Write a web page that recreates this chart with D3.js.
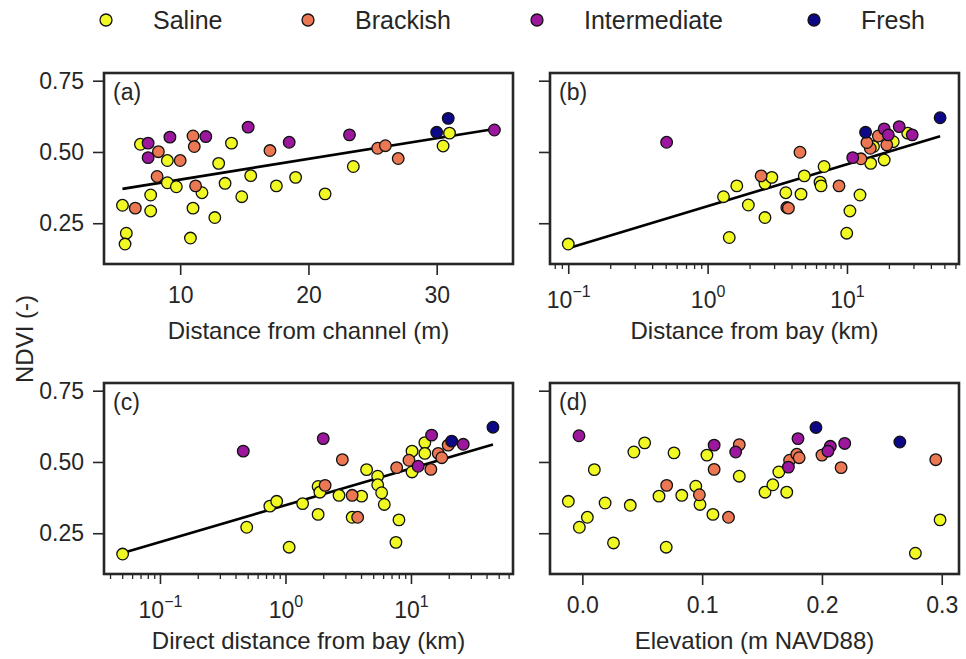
<!DOCTYPE html>
<html><head><meta charset="utf-8">
<script src="https://cdn.jsdelivr.net/npm/d3@7"></script>
<style>body{margin:0;background:#fff}svg{display:block}</style>
</head><body>
<svg id="chart" width="966" height="659"></svg>
<script>
// ---------- DATA ----------
const categories = ["Saline", "Brackish", "Intermediate", "Fresh"];
const yTicks = [0.25, 0.50, 0.75];
const yTickLabels = ["0.25", "0.50", "0.75"];
const channelTicks = [10, 20, 30];
const logMajorTicks = [0.1, 1, 10];
const logExponents = ["\u22121", "0", "1"];
const elevTicks = [0.0, 0.1, 0.2, 0.3];
const elevTickLabels = ["0.0", "0.1", "0.2", "0.3"];
const panelLetters = ["(a)", "(b)", "(c)", "(d)"];
const xTitles = ["Distance from channel (m)", "Distance from bay (km)", "Direct distance from bay (km)", "Elevation (m NAVD88)"];
const yTitle = "NDVI (-)";

// (a) distance from channel (m) vs NDVI
const chanSaline = [[6.9,0.527],[5.5,0.313],[5.8,0.215],[5.7,0.177],[7.7,0.349],[7.7,0.293],[9.0,0.470],[9.0,0.392],[9.7,0.378],[11.0,0.303],[10.8,0.198],[11.7,0.357],[12.7,0.270],[13.0,0.460],[13.5,0.390],[14.0,0.531],[14.8,0.343],[15.5,0.417],[17.5,0.381],[19.0,0.411],[21.3,0.353],[23.5,0.449],[30.5,0.521],[31.0,0.566]];
const chanBrackish = [[6.5,0.303],[8.3,0.501],[8.2,0.414],[10.0,0.470],[11.0,0.556],[11.1,0.519],[11.2,0.381],[17.0,0.505],[25.4,0.513],[26.0,0.522],[27.0,0.477]];
const chanIntermediate = [[7.5,0.531],[7.5,0.480],[9.2,0.552],[12.0,0.554],[15.3,0.587],[18.5,0.534],[23.2,0.560],[34.5,0.577]];
const chanFresh = [[30.0,0.569],[30.9,0.618]];

// (b) distance from bay (km) vs NDVI
const baySaline = [[0.1,0.177],[1.30,0.343],[1.62,0.381],[1.43,0.200],[1.96,0.314],[2.58,0.270],[2.58,0.390],[2.89,0.411],[3.64,0.357],[4.68,0.352],[4.94,0.416],[6.41,0.394],[6.52,0.381],[6.85,0.449],[9.96,0.215],[10.5,0.293],[12.4,0.349],[14.8,0.460],[18.5,0.472],[15.5,0.519],[21.5,0.536],[27.3,0.566]];
const bayBrackish = [[2.42,0.416],[4.60,0.499],[3.70,0.305],[3.80,0.303],[8.77,0.381],[12.6,0.476],[14.7,0.513],[16.8,0.556],[19.3,0.525],[13.9,0.533]];
const bayIntermediate = [[0.508,0.534],[11.0,0.480],[18.5,0.581],[19.8,0.560],[23.7,0.589],[29.4,0.560]];
const bayFresh = [[13.6,0.569],[46.6,0.620]];

// (c) direct distance from bay (km) vs NDVI
const directSaline = [[0.0504,0.177],[0.491,0.271],[0.751,0.345],[0.851,0.362],[1.07,0.201],[1.37,0.354],[1.82,0.316],[1.82,0.414],[1.88,0.394],[2.67,0.383],[3.40,0.306],[4.04,0.380],[4.43,0.473],[5.43,0.450],[5.43,0.420],[5.84,0.392],[6.13,0.351],[8.02,0.297],[7.59,0.218],[10.2,0.465],[10.2,0.538],[12.9,0.568],[12.9,0.530]];
const directBrackish = [[2.07,0.418],[2.84,0.508],[3.40,0.383],[3.76,0.306],[7.69,0.480],[9.64,0.506],[14.4,0.474],[16.5,0.530],[17.6,0.515],[19.8,0.559]];
const directIntermediate = [[0.461,0.538],[2.00,0.582],[11.4,0.485],[14.6,0.594],[26.1,0.562]];
const directFresh = [[21.1,0.573],[45.0,0.622]];

// (d) elevation (m NAVD88) vs NDVI
const elevSaline = [[-0.0117,0.362],[-0.0025,0.271],[0.0042,0.306],[0.010,0.473],[0.019,0.356],[0.026,0.216],[0.040,0.348],[0.043,0.535],[0.052,0.567],[0.064,0.380],[0.070,0.201],[0.0765,0.532],[0.083,0.383],[0.0947,0.415],[0.0982,0.351],[0.104,0.524],[0.109,0.316],[0.131,0.450],[0.1525,0.394],[0.159,0.420],[0.164,0.465],[0.1706,0.394],[0.278,0.180],[0.2986,0.297]];
const elevBrackish = [[0.0704,0.418],[0.0977,0.385],[0.110,0.474],[0.131,0.561],[0.122,0.306],[0.173,0.506],[0.179,0.527],[0.181,0.515],[0.200,0.524],[0.216,0.480],[0.295,0.508]];
const elevIntermediate = [[-0.0028,0.592],[0.110,0.559],[0.128,0.535],[0.180,0.582],[0.207,0.555],[0.219,0.565],[0.172,0.482],[0.205,0.538]];
const elevFresh = [[0.195,0.621],[0.265,0.570]];

// ---------- STYLE / LAYOUT ----------
const colors = ["#f0f921", "#ec7853", "#9c179e", "#0d0887"];
const FONT = "'Liberation Sans', Arial, Helvetica, sans-serif";
const TXT = "#262626";
const FRAME = "#262626";
const svg = d3.select("#chart");

const yDomain = [0.107, 0.777];
const panels = [
  {x0:104, x1:513, y0:73, y1:264, type:"lin", domain:[4.06, 35.95], data:[chanSaline, chanBrackish, chanIntermediate, chanFresh], fit:true, ylabels:true},
  {x0:550, x1:959, y0:73, y1:264, type:"log", domain:[Math.pow(10,-1.131), Math.pow(10,1.804)], data:[baySaline, bayBrackish, bayIntermediate, bayFresh], fit:true, ylabels:false},
  {x0:104, x1:513, y0:383, y1:574, type:"log", domain:[Math.pow(10,-1.446), Math.pow(10,1.813)], data:[directSaline, directBrackish, directIntermediate, directFresh], fit:true, ylabels:true},
  {x0:550, x1:959, y0:383, y1:574, type:"elev", domain:[-0.027, 0.3144], data:[elevSaline, elevBrackish, elevIntermediate, elevFresh], fit:false, ylabels:false}
];

panels.forEach((p, i) => {
  const x = p.type === "log" ? d3.scaleLog().domain(p.domain).range([p.x0, p.x1])
                             : d3.scaleLinear().domain(p.domain).range([p.x0, p.x1]);
  const y = d3.scaleLinear().domain(yDomain).range([p.y1, p.y0]);
  const g = svg.append("g");

  // y axis
  const yAxis = d3.axisLeft(y).tickValues(yTicks).tickSize(11).tickPadding(9)
      .tickFormat((d, k) => p.ylabels ? yTickLabels[k] : "");
  const ya = g.append("g").attr("transform", `translate(${p.x0},0)`).call(yAxis);
  ya.select(".domain").remove();
  ya.selectAll("line").attr("stroke", FRAME).attr("stroke-width", 1.6);
  ya.selectAll("text").attr("font-family", FONT).attr("font-size", 23).attr("fill", TXT);

  // x axis
  let xa;
  if (p.type === "log") {
    const minor = [];
    const lo = Math.floor(Math.log10(p.domain[0])), hi = Math.ceil(Math.log10(p.domain[1]));
    for (let e = lo; e < hi; e++) for (let m = 2; m <= 9; m++) {
      const v = m * Math.pow(10, e);
      if (v >= p.domain[0] && v <= p.domain[1]) minor.push(v);
    }
    const mg = g.append("g").attr("transform", `translate(0,${p.y1})`)
      .call(d3.axisBottom(x).tickValues(minor).tickSize(5).tickFormat(""));
    mg.select(".domain").remove();
    mg.selectAll("line").attr("stroke", FRAME).attr("stroke-width", 1.3);
    xa = g.append("g").attr("transform", `translate(0,${p.y1})`)
      .call(d3.axisBottom(x).tickValues(logMajorTicks).tickSize(10).tickFormat(""));
    xa.selectAll(".tick").each(function(d, k) {
      const t = d3.select(this).append("text").attr("y", 44).attr("text-anchor", "middle")
        .attr("font-family", FONT).attr("font-size", 23).attr("fill", TXT);
      t.append("tspan").text("10");
      t.append("tspan").attr("dy", -11).attr("font-size", 16).text(logExponents[k]);
    });
  } else {
    const tv = p.type === "lin" ? channelTicks : elevTicks;
    xa = g.append("g").attr("transform", `translate(0,${p.y1})`)
      .call(d3.axisBottom(x).tickValues(tv).tickSize(11).tickPadding(12)
        .tickFormat((d, k) => p.type === "lin" ? String(d) : elevTickLabels[k]));
    xa.selectAll("text").attr("font-family", FONT).attr("font-size", 23).attr("fill", TXT);
  }
  xa.select(".domain").remove();
  xa.selectAll("line").attr("stroke", FRAME).attr("stroke-width", 1.6);

  // x title
  g.append("text").attr("x", (p.x0 + p.x1) / 2).attr("y", p.y1 + 75).attr("text-anchor", "middle")
    .attr("font-family", FONT).attr("font-size", 24).attr("fill", TXT).text(xTitles[i]);

  // regression line (least squares, in log space for log axes)
  if (p.fit) {
    const all = p.data.flat();
    const tx = v => p.type === "log" ? Math.log10(v) : v;
    const xs = all.map(d => tx(d[0])), ys = all.map(d => d[1]);
    const mx = d3.mean(xs), my = d3.mean(ys);
    const b = d3.sum(xs.map((v, k) => (v - mx) * (ys[k] - my))) / d3.sum(xs.map(v => (v - mx) * (v - mx)));
    const a = my - b * mx;
    const ext = d3.extent(all, d => d[0]);
    const pts = ext.map(v => [v, a + b * tx(v)]);
    g.append("path").attr("d", d3.line().x(d => x(d[0])).y(d => y(d[1]))(pts))
      .attr("stroke", "#000").attr("stroke-width", 2.6).attr("fill", "none");
  }

  // points
  p.data.forEach((arr, c) => {
    g.append("g").selectAll("circle").data(arr).join("circle")
      .attr("cx", d => x(d[0])).attr("cy", d => y(d[1])).attr("r", 5.8)
      .attr("fill", colors[c]).attr("stroke", "#111").attr("stroke-width", 1.3);
  });

  // frame
  g.append("rect").attr("x", p.x0).attr("y", p.y0).attr("width", p.x1 - p.x0).attr("height", p.y1 - p.y0)
    .attr("fill", "none").attr("stroke", FRAME).attr("stroke-width", 2.6);

  // panel letter
  g.append("text").attr("x", p.x0 + 9).attr("y", p.y0 + 27).attr("font-family", FONT)
    .attr("font-size", 23).attr("fill", TXT).text(panelLetters[i]);
});

// y title
svg.append("text").attr("transform", "translate(33,339) rotate(-90)").attr("text-anchor", "middle")
  .attr("font-family", FONT).attr("font-size", 24).attr("fill", TXT).text(yTitle);

// legend
const legX = [106, 308, 537, 814];
const lg = svg.append("g");
categories.forEach((c, k) => {
  lg.append("circle").attr("cx", legX[k]).attr("cy", 20).attr("r", 6)
    .attr("fill", colors[k]).attr("stroke", "#111").attr("stroke-width", 1.3);
  lg.append("text").attr("x", legX[k] + 47).attr("y", 29).attr("font-family", FONT)
    .attr("font-size", 25).attr("fill", TXT).text(c);
});
</script>
</body></html>
